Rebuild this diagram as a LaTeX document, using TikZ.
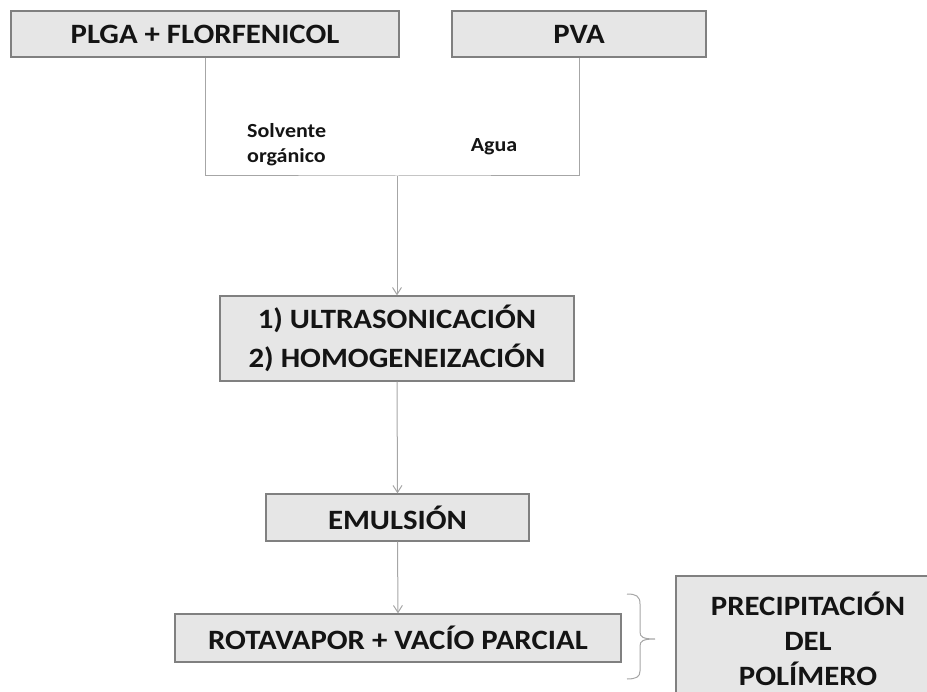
\documentclass[tikz,border=0pt]{standalone}
\usepackage{fontspec}
\setmainfont{Carlito}[FakeStretch=1.1]
\usetikzlibrary{arrows.meta,shadows}
\definecolor{boxfill}{HTML}{E6E6E6}
\definecolor{boxline}{HTML}{808080}
\definecolor{connc}{HTML}{A6A6A6}
\tikzset{
 procbox/.style={draw=boxline, line width=1.3pt, fill=boxfill, inner sep=0pt, align=center,
   font=\fontsize{28}{36}\selectfont\bfseries, text=black!92,
   drop shadow={shadow xshift=1pt, shadow yshift=-1pt, opacity=0.3}},
 conn/.style={draw=connc, line width=1pt},
 arr/.style={conn, -{Straight Barb[length=7pt,width=9pt]}},
 lbl/.style={font=\fontsize{20}{25}\selectfont\bfseries, align=left, inner sep=0pt, text=black!92}
}
\begin{document}
\begin{tikzpicture}[x=1pt,y=-1pt]
\useasboundingbox (0,0) rectangle (927,692);
\clip (0,0) rectangle (927,692);
\node[procbox, minimum width=388pt, minimum height=46pt] (plga) at (205,34) {PLGA + FLORFENICOL};
\node[procbox, minimum width=254pt, minimum height=46pt] (pva) at (579,34) {PVA};
\node[procbox, minimum width=354pt, minimum height=85pt, font=\fontsize{28}{39}\selectfont\bfseries] (ultra) at (397,338.5) {1) ULTRASONICACIÓN\\2) HOMOGENEIZACIÓN};
\node[procbox, minimum width=263pt, minimum height=47pt] (emul) at (397.5,517.5) {EMULSIÓN};
\node[procbox, minimum width=446pt, minimum height=48pt] (rota) at (398,638) {ROTAVAPOR + VACÍO PARCIAL};
\node[procbox, minimum width=264pt, minimum height=126pt, font=\fontsize{28}{35}\selectfont\bfseries] (prec) at (808,639) {PRECIPITACIÓN\\DEL\\POLÍMERO};
\node[lbl, anchor=west] (solv) at (247,145) {Solvente\\orgánico};
\node[lbl] (agua) at (494,147) {Agua};
\coordinate (j) at (397,176);
\draw[conn] (plga.south) |- (j) -| (pva.south);
\draw[arr] (j) -- (ultra.north);
\draw[arr] (ultra.south) -- (emul.north);
\draw[arr] (emul.south) -- (rota.north);
\coordinate (bt) at (627,594);
\coordinate (btip) at (655,639);
\coordinate (bb) at (627,679);
\draw[conn] (bt) .. controls (636,594) and (640,596) .. (640,604) -- (640,632)
  .. controls (640,637) and (643,639) .. (btip)
  .. controls (643,639) and (640,641) .. (640,646) -- (640,671)
  .. controls (640,677) and (636,679) .. (bb);
\end{tikzpicture}
\end{document}
